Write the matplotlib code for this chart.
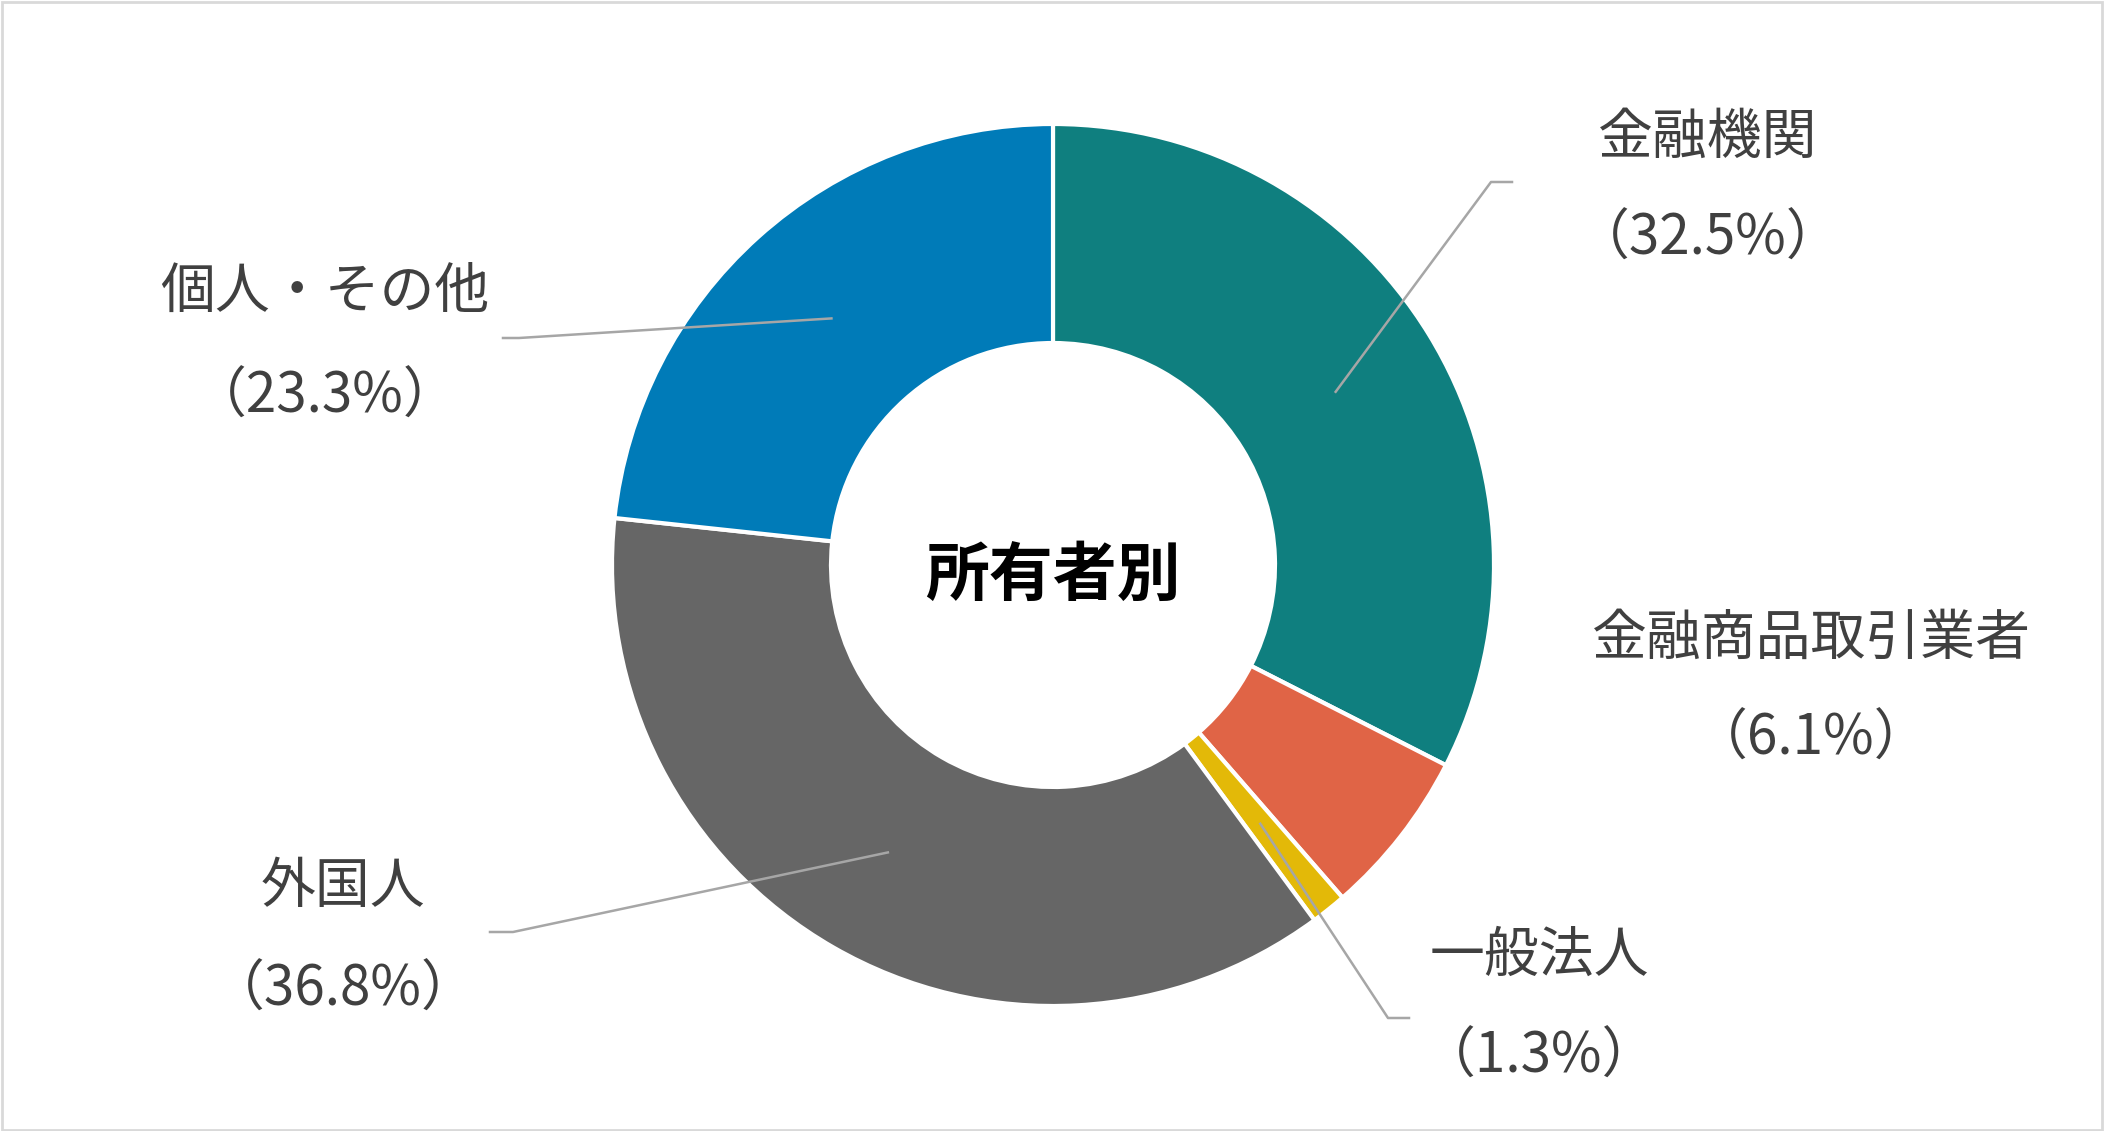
import numpy as np
import matplotlib
matplotlib.use("Agg")
import matplotlib.pyplot as plt

plt.rcParams['font.family'] = ['Noto Sans CJK JP', 'DejaVu Sans']

# データ
labels = ["金融機関", "金融商品取引業者", "一般法人", "外国人", "個人・その他"]
shares = [32.5, 6.1, 1.3, 36.8, 23.3]
colors = ["#0f7f7f", "#e06446", "#e3b908", "#666666", "#007bb8"]

# レイアウト (ピクセル単位, y は下から)
W, H = 2104, 1131
cx, cy = 1053, 566
r_out, r_in = 441, 222

# ラベル位置 (x, 名前の y, 割合の y)
label_pos = [(1708, 993, 892), (1811, 492, 392), (1539, 175, 74),
             (343, 244, 141), (325, 839, 734)]
# 引き出し線の折れ点と終点 (なしは None)
leader = [((1491, 949), (1512, 949)), None, ((1388, 113), (1409, 113)),
          ((513, 199), (490, 199)), ((519, 793), (503, 793))]

fig = plt.figure(figsize=(W / 100, H / 100), dpi=100)
ax = fig.add_axes([0, 0, 1, 1])

wedges, _ = ax.pie(shares, colors=colors, startangle=90, counterclock=False,
                   radius=r_out, center=(cx, cy),
                   wedgeprops=dict(width=r_out - r_in, edgecolor="white", linewidth=3))

ax.set_xlim(0, W)
ax.set_ylim(0, H)
ax.set_aspect("equal")
ax.axis("off")

r_mid = (r_out + r_in) / 2
for w, lab, val, pos, ld in zip(wedges, labels, shares, label_pos, leader):
    x, y1, y2 = pos
    ax.text(x, y1, lab, ha="center", va="center", fontsize=39.5, color="#404040")
    ax.text(x, y2, "（%.1f%%）" % val, ha="center", va="center", fontsize=39.5, color="#404040")
    if ld is not None:
        ang = np.deg2rad((w.theta1 + w.theta2) / 2)
        sx = cx + r_mid * np.cos(ang)
        sy = cy + r_mid * np.sin(ang)
        (bx, by), (ex, ey) = ld
        ax.plot([sx, bx, ex], [sy, by, ey], color="#a6a6a6", lw=1.8, zorder=5)

ax.text(cx, cy - 11, "所有者別", ha="center", va="center", fontsize=46,
        fontweight="bold", color="#000000")

# 外枠
fig.patches.append(plt.Rectangle((0.001, 0.001), 0.998, 0.997, transform=fig.transFigure,
                                 fill=False, edgecolor="#d9d9d9", linewidth=2))

fig.savefig("out.png", dpi=100)
